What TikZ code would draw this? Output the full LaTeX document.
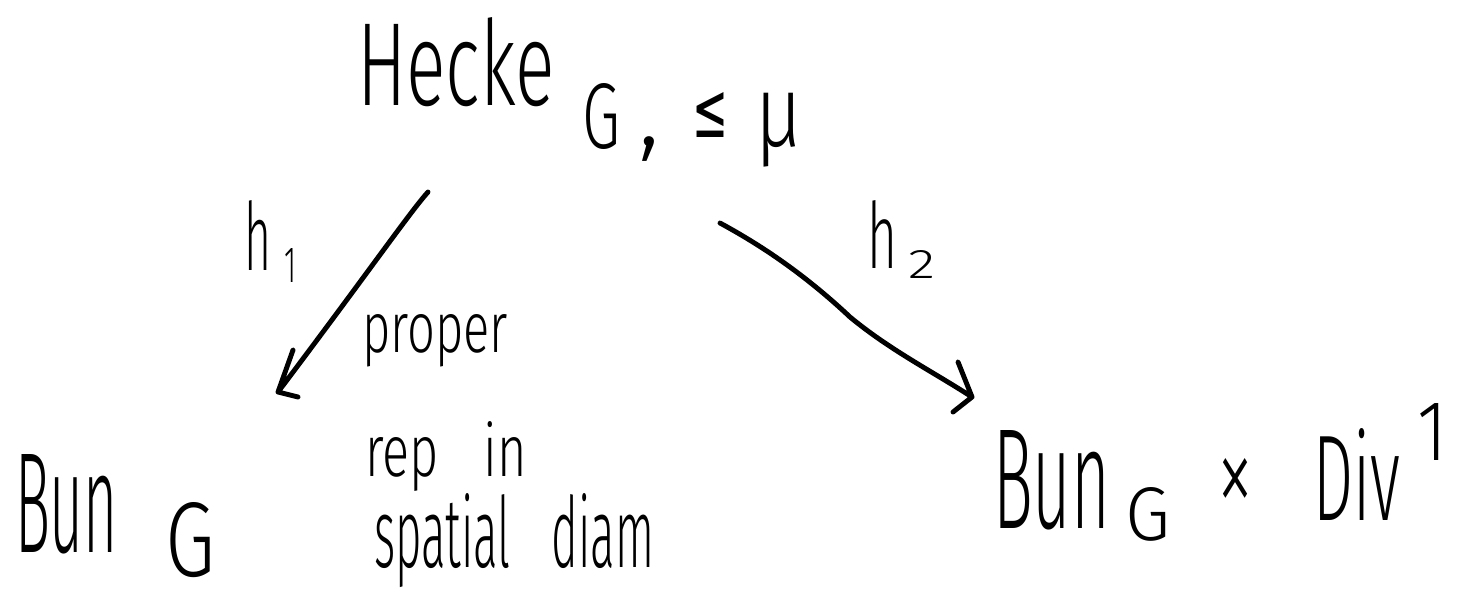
\documentclass[tikz,border=0pt]{standalone}
\usepackage{fontspec}
\setmainfont{Fira Sans Light}
\newfontfamily\symfont{DejaVu Sans}
\tikzset{
  hw/.style={inner sep=0pt, outer sep=0pt, text=black, font=\fontsize{30}{32}\selectfont},
  conn/.style={line width=1.4pt, line cap=round, line join=round},
}
\newcommand{\rs}[3]{\resizebox{#1}{#2}{#3}}
\newcommand{\rst}[3]{\resizebox*{#1}{#2}{#3}}
\begin{document}
\begin{tikzpicture}
\useasboundingbox (0,0) rectangle (14.62,-5.99);
% top
\node[hw, anchor=base west] (hecke) at (3.57,-1.05) {\rs{1.98cm}{0.88cm}{Hecke}};
\node[hw, anchor=base west] (gsub) at (5.82,-1.48) {\rs{0.38cm}{0.65cm}{G}};
\node[hw, anchor=base west] (comma) at (6.38,-1.45) {,};
\node[hw, anchor=south west] (leq) at (6.92,-1.37) {\rst{0.36cm}{0.45cm}{\symfont ≤}};
\node[hw, anchor=south west] (mu) at (7.55,-1.67) {\rst{0.47cm}{0.74cm}{μ}};
% h1
\node[hw, anchor=base west] (h1) at (2.44,-2.70) {\rs{0.27cm}{0.7cm}{h}};
\node[hw, anchor=base west] (one) at (2.84,-2.82) {\rs{0.12cm}{0.34cm}{1}};
% h2
\node[hw, anchor=base west] (h2) at (8.67,-2.68) {\rs{0.3cm}{0.68cm}{h}};
\node[hw, anchor=base west] (two) at (9.08,-2.78) {\rs{0.27cm}{0.28cm}{2}};
% proper etc
\node[hw, anchor=base west] (proper) at (3.62,-3.52) {\rs{1.46cm}{0.38cm}{proper}};
\node[hw, anchor=base west] (rep) at (3.65,-4.76) {\rs{1.62cm}{0.55cm}{rep\hspace{0.9em}in}};
\node[hw, anchor=base west] (spatial) at (3.74,-5.67) {\rs{2.8cm}{0.74cm}{spatial\hspace{0.9em}diam}};
% Bun G
\node[hw, anchor=base west] (bun) at (0.15,-5.52) {\rs{1.03cm}{0.98cm}{Bun}};
\node[hw, anchor=base west] (g1) at (1.65,-5.76) {\rs{0.5cm}{0.74cm}{G}};
% Bun_G x Div^1
\node[hw, anchor=base west] (bun2) at (9.93,-5.28) {\rs{1.17cm}{0.98cm}{Bun}};
\node[hw, anchor=base west] (g2) at (11.25,-5.4) {\rs{0.45cm}{0.53cm}{G}};
\node[hw, anchor=base west] (times) at (12.17,-5.0) {\rs{0.36cm}{0.42cm}{\symfont ×}};
\node[hw, anchor=base west] (div) at (13.13,-5.2) {\rs{0.87cm}{0.92cm}{Div}};
\node[hw, anchor=base west] (sup) at (14.17,-4.6) {\rs{0.3cm}{0.57cm}{1}};
% arrows
\coordinate (a1s) at (4.28,-1.92);
\coordinate (a1e) at (2.78,-3.92);
\coordinate (a2s) at (7.2,-2.23);
\coordinate (a2e) at (9.72,-3.97);
\draw[conn] (a1s) .. controls (4.1,-2.12) and (3.7,-2.7) .. (a1e)
  (a1e) -- +(0.15,0.42) (a1e) -- +(0.2,-0.05);
\draw[conn] (a2s) .. controls (7.55,-2.42) and (8.0,-2.7) .. (8.5,-3.17)
  .. controls (8.9,-3.5) and (9.3,-3.7) .. (a2e)
  (a2e) -- +(-0.14,0.35) (a2e) -- +(-0.19,-0.15);
\end{tikzpicture}
\end{document}
